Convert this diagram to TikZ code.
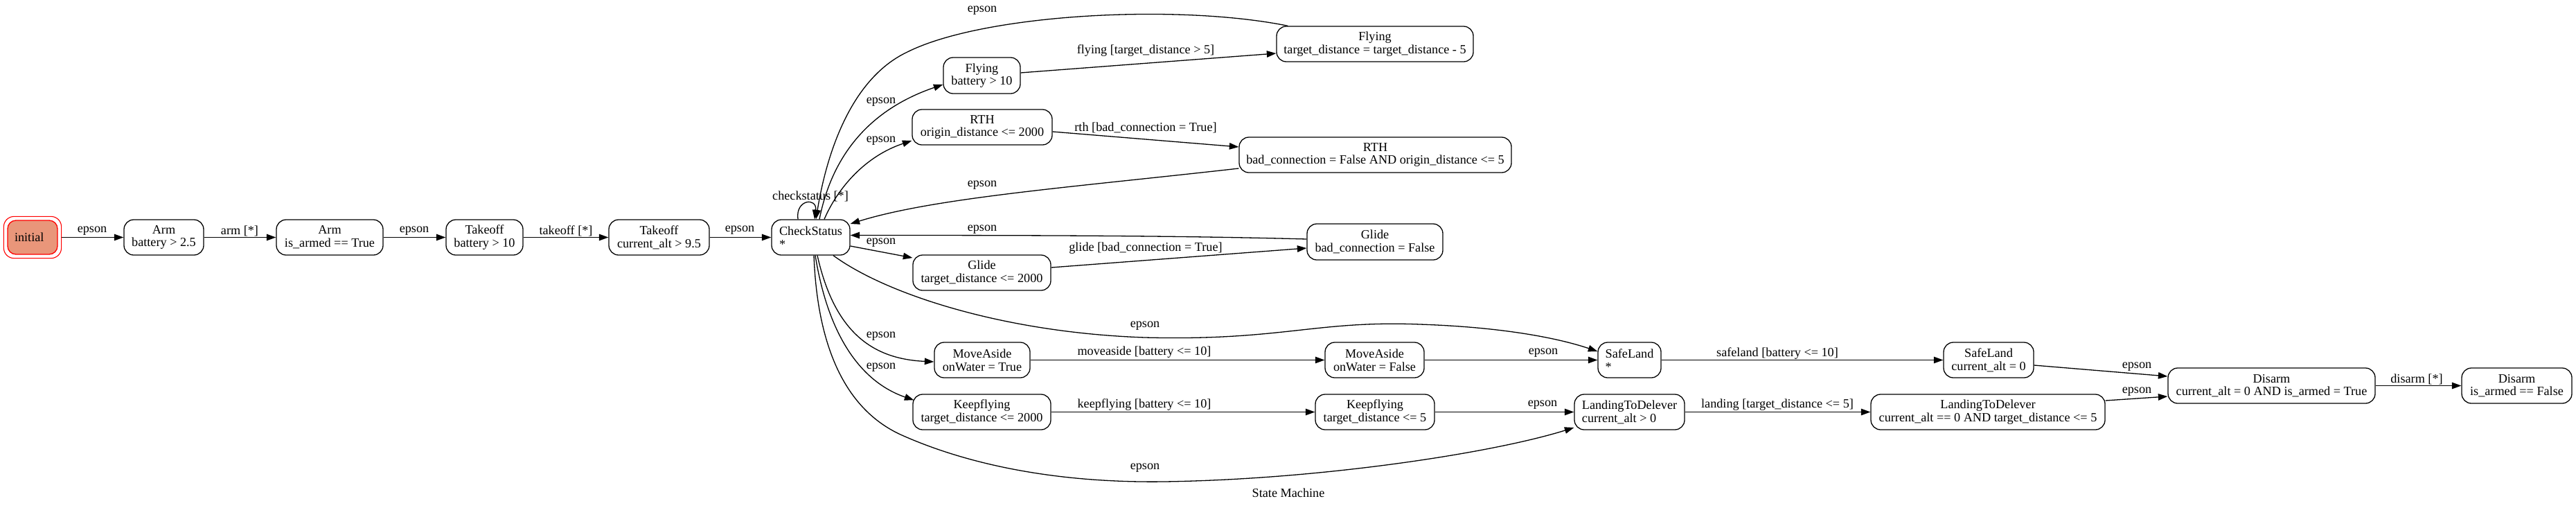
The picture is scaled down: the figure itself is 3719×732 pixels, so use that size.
\documentclass[tikz,border=0pt]{standalone}
\usepackage{fontspec}
\setmainfont{Liberation Serif}
\usetikzlibrary{arrows.meta,calc,fit}
\newcommand\diagfont{\fontsize{18.2}{18.7}\selectfont}
\definecolor{initfill}{RGB}{233,150,122}
\tikzset{
  st/.style={draw, rounded corners=14pt, line width=1.3pt, minimum height=51pt,
    inner sep=0pt, align=center, font=\diagfont},
  lst/.style={st, align=left},
  lbl/.style={inner sep=0pt, font=\diagfont},
  arr/.style={line width=1.3pt, -{Triangle[length=13.5pt,width=9.5pt]}},
}
\begin{document}
\begin{tikzpicture}[x=1pt,y=-1pt]
\fill[white] (0,0) rectangle (3719,732);
\useasboundingbox (0,0) rectangle (3719,732);

% nodes
\node[draw=red, fill=initfill, rounded corners=12pt, line width=1.3pt, minimum height=49pt,
      inner xsep=10pt, inner ysep=0pt, text width=52pt, align=left, font=\diagfont] (init) at (47,342.5) {initial};
\node[fit=(init), draw=red, rounded corners=15pt, line width=1.1pt, inner sep=5pt] (initouter) {};
\node[st, minimum width=115pt] (arm1) at (236.5,342.5) {Arm\\battery > 2.5};
\node[st, minimum width=154pt] (arm2) at (476,342.5) {Arm\\is\_armed == True};
\node[st, minimum width=111pt] (to1) at (699.5,342.5) {Takeoff\\battery > 10};
\node[st, minimum width=145pt] (to2) at (951.5,342.5) {Takeoff\\current\_alt > 9.5};
\node[lst, minimum width=113pt] (cs) at (1170.5,342.5) {CheckStatus\\*};
\node[st, minimum width=111pt, minimum height=52pt] (fly1) at (1417.5,109) {Flying\\battery > 10};
\node[st, minimum width=284pt] (fly2) at (1985,63.5) {Flying\\target\_distance = target\_distance - 5};
\node[st, minimum width=202pt] (rth1) at (1418,183.5) {RTH\\origin\_distance <= 2000};
\node[st, minimum width=393pt] (rth2) at (1985.5,223.5) {RTH\\bad\_connection = False AND origin\_distance <= 5};
\node[st, minimum width=196pt, minimum height=52pt] (gl2) at (1985,349) {Glide\\bad\_connection = False};
\node[st, minimum width=199pt] (gl1) at (1417.5,393.5) {Glide\\target\_distance <= 2000};
\node[st, minimum width=138pt] (ma1) at (1418,519.5) {MoveAside\\onWater = True};
\node[st, minimum width=143pt] (ma2) at (1984.5,519.5) {MoveAside\\onWater = False};
\node[lst, minimum width=91pt] (sl1) at (2352.5,519.5) {SafeLand\\*};
\node[st, minimum width=130pt] (sl2) at (2871,519.5) {SafeLand\\current\_alt = 0};
\node[st, minimum width=199pt] (kf1) at (1417.5,594.5) {Keepflying\\target\_distance <= 2000};
\node[st, minimum width=172pt] (kf2) at (1985,594.5) {Keepflying\\target\_distance <= 5};
\node[lst, minimum width=159pt] (ltd1) at (2352.5,594.5) {LandingToDelever\\current\_alt > 0};
\node[st, minimum width=338pt] (ltd2) at (2870,594.5) {LandingToDelever\\current\_alt == 0 AND target\_distance <= 5};
\node[st, minimum width=299pt] (dis1) at (3279.5,556.5) {Disarm\\current\_alt = 0 AND is\_armed = True};
\node[st, minimum width=159pt] (dis2) at (3633.5,556.5) {Disarm\\is\_armed == False};
\node[lbl] (title) at (1860,711) {State Machine};

% main chain
\draw[arr] (initouter.east) -- (arm1.west) node[lbl] at (133,333) {epson};
\draw[arr] (arm1.east) -- (arm2.west) node[lbl] at (346,333) {arm [*]};
\draw[arr] (arm2.east) -- (to1.west) node[lbl] at (598,333) {epson};
\draw[arr] (to1.east) -- (to2.west) node[lbl] at (817,333) {takeoff [*]};
\draw[arr] (to2.east) -- (cs.west) node[lbl] at (1068,332) {epson};

% self loop
\draw[arr] ($(cs.north)+(-18.5,0)$) .. controls ($(cs.north)+(-22.5,-29)$) and ($(cs.north)+(9.5,-32)$) .. ($(cs.north)+(5.5,0)$)
  node[lbl] at (1170,283) {checkstatus [*]};

% upper branches
\draw[arr] ($(fly2.north west)+(17,0)$) .. controls (1700,5) and (1420,20) .. (1310,75)
  .. controls (1225,115) and (1192,230) .. ($(cs.north)+(7.5,0)$) node[lbl] at (1418,15) {epson};
\draw[arr] ($(cs.north)+(12.5,0)$) .. controls (1200,230) and (1250,160) .. ($(fly1.west)+(0,13)$)
  node[lbl] at (1272,147) {epson};
\draw[arr] ($(cs.north)+(19.5,0)$) .. controls (1210,270) and (1250,225) .. ($(rth1.west)+(0,19.5)$)
  node[lbl] at (1272,203) {epson};
\draw[arr] ($(fly1.east)+(0,-4)$) -- ($(fly2.west)+(0,13.5)$) node[lbl] at (1654,73) {flying [target\_distance > 5]};
\draw[arr] ($(rth1.east)+(0,6.5)$) -- ($(rth2.west)+(0,-11.5)$) node[lbl] at (1654,184) {rth [bad\_connection = True]};
\draw[arr] ($(rth2.west)+(0,19.5)$) .. controls (1550,270) and (1350,285) .. ($(cs.east)+(0,-19.5)$)
  node[lbl] at (1418,267) {epson};
\draw[arr] ($(gl2.west)+(0,-4)$) .. controls (1700,340) and (1500,339.5) .. ($(cs.east)+(0,-3)$)
  node[lbl] at (1418,331) {epson};
\draw[arr] ($(cs.east)+(0,12.5)$) -- ($(gl1.west)+(0,-21.5)$) node[lbl] at (1272,350) {epson};
\draw[arr] ($(gl1.east)+(0,-7.5)$) -- ($(gl2.west)+(0,9)$) node[lbl] at (1654,358) {glide [bad\_connection = True]};

% lower branches
\draw[arr] ($(cs.south)+(32.5,0)$) .. controls (1280,425) and (1450,480) .. (1653,487)
  .. controls (1850,492) and (1900,462) .. (2050,468)
  .. controls (2170,472) and (2250,488) .. ($(sl1.west)+(0,-12.5)$) node[lbl] at (1653,470) {epson};
\draw[arr] ($(cs.south)+(9.5,0)$) .. controls (1205,480) and (1260,518) .. ($(ma1.west)+(0,2.5)$)
  node[lbl] at (1272,485) {epson};
\draw[arr] ($(cs.south)+(6.5,0)$) .. controls (1195,480) and (1240,550) .. ($(kf1.north west)+(2,9)$)
  node[lbl] at (1272,530) {epson};
\draw[arr] ($(cs.south)+(4.5,0)$) .. controls (1180,500) and (1220,590) .. (1300,627)
  .. controls (1400,672) and (1530,697) .. (1680,695)
  .. controls (1900,692) and (2150,655) .. ($(ltd1.west)+(0,22.5)$) node[lbl] at (1653,675) {epson};

\draw[arr] (ma1.east) -- (ma2.west) node[lbl] at (1652,508) {moveaside [battery <= 10]};
\draw[arr] (ma2.east) -- (sl1.west) node[lbl] at (2228,509) {epson};
\draw[arr] (kf1.east) -- (kf2.west) node[lbl] at (1652,584) {keepflying [battery <= 10]};
\draw[arr] (kf2.east) -- (ltd1.west) node[lbl] at (2227,584) {epson};
\draw[arr] (sl1.east) -- (sl2.west) node[lbl] at (2566,510) {safeland [battery <= 10]};
\draw[arr] (ltd1.east) -- (ltd2.west) node[lbl] at (2566,584) {landing [target\_distance <= 5]};
\draw[arr] ($(sl2.east)+(0,7.5)$) -- ($(dis1.west)+(0,-13.5)$) node[lbl] at (3085,529) {epson};
\draw[arr] ($(ltd2.east)+(0,-16.5)$) -- ($(dis1.west)+(0,15.5)$) node[lbl] at (3085,565) {epson};
\draw[arr] (dis1.east) -- (dis2.west) node[lbl] at (3489,547) {disarm [*]};
\end{tikzpicture}
\end{document}
